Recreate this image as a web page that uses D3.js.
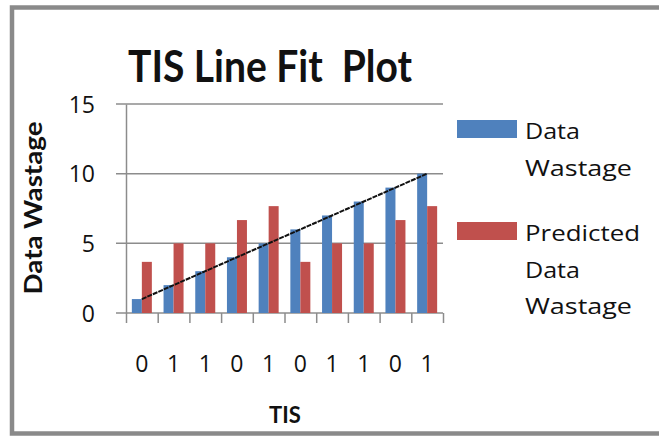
<!DOCTYPE html>
<html>
<head>
  <meta charset="utf-8">
  <script src="https://cdn.jsdelivr.net/npm/d3@7"></script>
  <style type="text/css">
    body {
      margin: 0;
      background: #fff;
    }
    text {
      font-family: "Open Sans", Lato, sans-serif;
      fill: #111;
    }
    .bold {
      font-family: Lato, "Open Sans", sans-serif;
      font-weight: bold;
    }
    .grid line {
      stroke: #8c8c8c;
      stroke-width: 1.5;
    }
  </style>
</head>
<body>
  <svg id="chart" width="659" height="436"></svg>
  <script type="text/javascript">

  const tis = ['0', '1', '1', '0', '1', '0', '1', '1', '0', '1'];
  const dataWastage = [1, 2, 3, 4, 5, 6, 7, 8, 9, 10];
  const predicted = [3.67, 5, 5, 6.67, 7.67, 3.67, 5, 5, 6.67, 7.67];
  const yTicks = [0, 5, 10, 15];
  const seriesNames = ['Data Wastage', 'Predicted Data Wastage'];
  const colors = ['#4f81bd', '#c0504d'];

  const svg = d3.select('#chart');

  // outer frame
  svg.append('rect')
    .attr('x', 12).attr('y', 7.5)
    .attr('width', 700).attr('height', 426)
    .attr('fill', 'none')
    .attr('stroke', '#8a8a8a')
    .attr('stroke-width', 4.5);

  svg.append('text')
    .attr('class', 'bold')
    .attr('x', 270).attr('y', 82)
    .attr('text-anchor', 'middle')
    .attr('font-size', 44)
    .attr('textLength', 284)
    .attr('lengthAdjust', 'spacingAndGlyphs')
    .style('white-space', 'pre')
    .text('TIS Line Fit  Plot');

  const plotL = 126, plotR = 443, plotT = 104, plotB = 313;

  const x = d3.scaleBand().domain(d3.range(tis.length)).range([plotL, plotR]);
  const y = d3.scaleLinear().domain([0, 15]).range([plotB, plotT]);
  const bw = 10;
  const off = (x.bandwidth() - 2 * bw) / 2;

  // gridlines
  svg.append('g').attr('class', 'grid')
    .selectAll('line').data(yTicks).join('line')
    .attr('x1', plotL - 10).attr('x2', plotR)
    .attr('y1', d => y(d)).attr('y2', d => y(d));

  // y axis
  const yAxis = svg.append('g')
    .attr('transform', `translate(${plotL},0)`)
    .call(d3.axisLeft(y).tickValues(yTicks).tickSize(0).tickPadding(31));
  yAxis.select('.domain').attr('stroke', '#8c8c8c').attr('stroke-width', 1.5);
  yAxis.selectAll('text').attr('font-size', 23).attr('fill', '#111')
    .attr('font-family', '"Open Sans", sans-serif').attr('dy', '0.36em');

  // x axis
  const xt = d3.scaleLinear().domain([0, tis.length]).range([plotL, plotR]);
  const xAxis = svg.append('g')
    .attr('transform', `translate(0,${plotB})`)
    .call(d3.axisBottom(xt).ticks(tis.length).tickSize(10).tickFormat(''));
  xAxis.select('.domain').remove();
  xAxis.selectAll('line').attr('stroke', '#8c8c8c').attr('stroke-width', 1.5);

  svg.append('g').selectAll('text').data(tis).join('text')
    .attr('x', (d, i) => x(i) + x.bandwidth() / 2)
    .attr('y', 372)
    .attr('text-anchor', 'middle')
    .attr('font-size', 23)
    .text(d => d);

  // bars
  const series = [dataWastage, predicted];
  series.forEach((vals, s) => {
    svg.append('g').selectAll('rect').data(vals).join('rect')
      .attr('x', (d, i) => x(i) + off + s * bw)
      .attr('y', d => y(d))
      .attr('width', bw)
      .attr('height', d => plotB - y(d))
      .attr('fill', colors[s]);
  });

  // fit line
  const line = d3.line()
    .x((d, i) => x(i) + x.bandwidth() / 2)
    .y(d => y(d));
  svg.append('path')
    .datum(dataWastage)
    .attr('d', line)
    .attr('fill', 'none')
    .attr('stroke', '#111')
    .attr('stroke-width', 2)
    .attr('stroke-dasharray', '5,1');

  // axis titles
  svg.append('text')
    .attr('class', 'bold')
    .attr('x', 285).attr('y', 423)
    .attr('text-anchor', 'middle')
    .attr('font-size', 22)
    .text('TIS');

  svg.append('text')
    .attr('class', 'bold')
    .attr('transform', 'translate(42,208) rotate(-90)')
    .attr('text-anchor', 'middle')
    .attr('font-size', 25)
    .attr('textLength', 173)
    .attr('lengthAdjust', 'spacingAndGlyphs')
    .text('Data Wastage');

  // legend (each series name wrapped onto lines, as in the picture)
  const legendLines = [['Data', 'Wastage'], ['Predicted', 'Data', 'Wastage']];
  const wordWidth = { Data: 55, Wastage: 107, Predicted: 115 };
  const legendTop = [120, 222];
  legendLines.forEach((lines, s) => {
    const g = svg.append('g');
    g.append('rect')
      .attr('x', 457).attr('y', legendTop[s])
      .attr('width', 60).attr('height', 18)
      .attr('fill', colors[s]);
    g.selectAll('text').data(lines).join('text')
      .attr('x', 525)
      .attr('y', (d, i) => legendTop[s] + 19 + i * 36.5)
      .attr('font-size', 22)
      .attr('textLength', d => wordWidth[d])
      .attr('lengthAdjust', 'spacingAndGlyphs')
      .text(d => d);
  });
  </script>
</body>
</html>
